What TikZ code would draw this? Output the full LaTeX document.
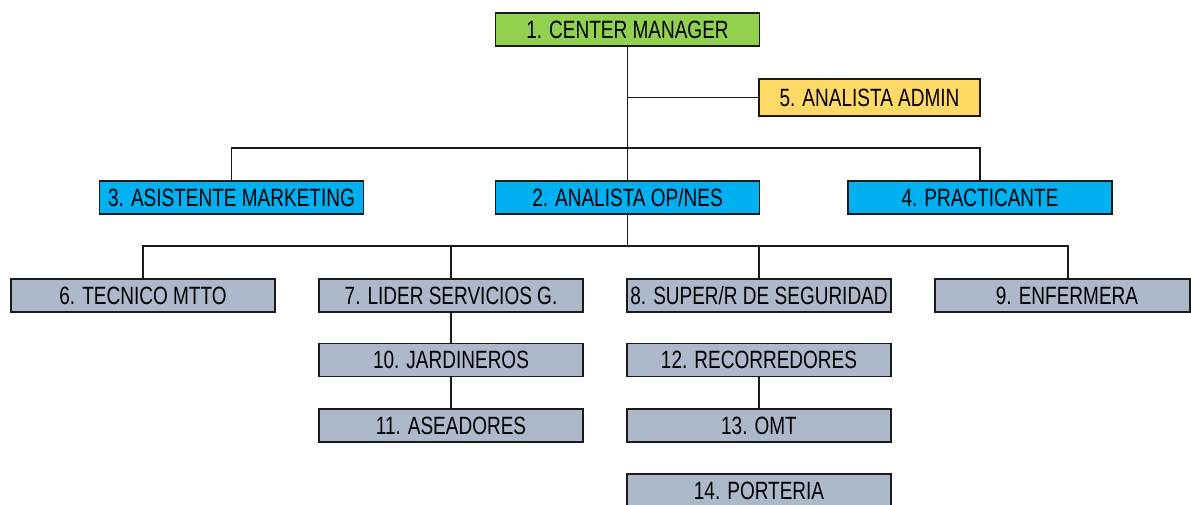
\documentclass[tikz,border=0pt]{standalone}
\usepackage{fontspec}
\setmainfont{Liberation Sans}[FakeStretch=0.76]
\definecolor{cgreen}{HTML}{92D050}
\definecolor{cyellow}{HTML}{FFD966}
\definecolor{cblue}{HTML}{00B0F0}
\definecolor{cgray}{HTML}{ADB9CA}
\definecolor{cline}{HTML}{1A1A1A}
\begin{document}
\begin{tikzpicture}[x=1pt,y=-1pt,
  box/.style={draw=cline, line width=1.4pt, rectangle, inner sep=0pt,
    minimum height=33pt, minimum width=264pt,
    font=\fontsize{25}{25}\selectfont, text=black},
  conn/.style={draw=cline, line width=1.6pt}]
\useasboundingbox (0,0) rectangle (1191,504);
\node[box, fill=cgreen] (n1) at (627.5,29.5) {1. CENTER MANAGER};
\node[box, fill=cyellow, minimum width=221pt, minimum height=37pt] (n5) at (869.5,97.5) {5. ANALISTA ADMIN};
\node[box, fill=cblue] (n3) at (231.5,197.5) {3. ASISTENTE MARKETING};
\node[box, fill=cblue] (n2) at (627.5,197.5) {2. ANALISTA OP/NES};
\node[box, fill=cblue] (n4) at (980,197.5) {4. PRACTICANTE};
\node[box, fill=cgray] (n6) at (143,295.5) {6. TECNICO MTTO};
\node[box, fill=cgray] (n7) at (451,295.5) {7. LIDER SERVICIOS G.};
\node[box, fill=cgray] (n8) at (759,295.5) {8. SUPER/R DE SEGURIDAD};
\node[box, fill=cgray, minimum width=255pt] (n9) at (1062.5,295.5) {\hspace*{9pt}9. ENFERMERA};
\node[box, fill=cgray] (n10) at (451,360) {10. JARDINEROS};
\node[box, fill=cgray] (n11) at (451,425.5) {11. ASEADORES};
\node[box, fill=cgray] (n12) at (759,360) {12. RECORREDORES};
\node[box, fill=cgray] (n13) at (759,425.5) {13. OMT};
\node[box, fill=cgray] (n14) at (759,490.5) {14. PORTERIA};
\coordinate (b1) at (627.5,148);
\coordinate (b2) at (627.5,246);
\coordinate (d9) at ([xshift=5.5pt]n9.north);
\draw[conn] (n1.south) -- (n2.north);
\draw[conn] (n1.south |- n5.west) -- (n5.west);
\draw[conn] (n3.north) |- (b1) -| (n4.north);
\draw[conn] (n2.south) -- (b2);
\draw[conn] (n6.north) |- (b2) -| (d9);
\draw[conn] (n7.north) -- (n7.north |- b2);
\draw[conn] (n8.north) -- (n8.north |- b2);
\draw[conn] (n7.south) -- (n10.north);
\draw[conn] (n10.south) -- (n11.north);
\draw[conn] (n12.south) -- (n13.north);
\end{tikzpicture}
\end{document}
